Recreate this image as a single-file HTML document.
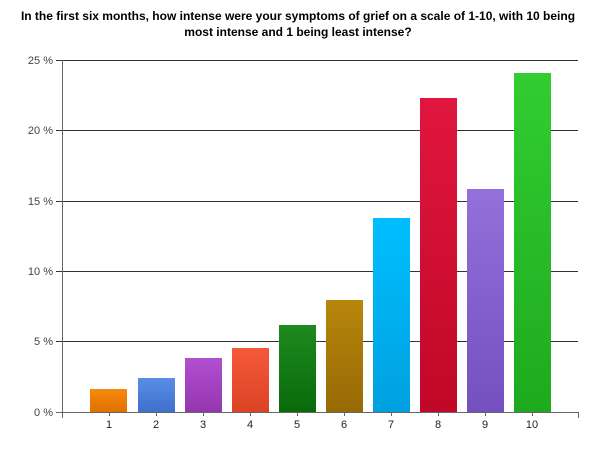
<!DOCTYPE html>
<html><head><style>body{margin:0;background:#fff}svg{display:block}</style></head><body>
<svg width="600" height="450" xmlns="http://www.w3.org/2000/svg" font-family="Liberation Sans, Arial, sans-serif">
<defs>
<linearGradient id="g1" x1="0" y1="0" x2="0" y2="1"><stop offset="0" stop-color="#f68a0e"/><stop offset="1" stop-color="#e07000"/></linearGradient>
<linearGradient id="g2" x1="0" y1="0" x2="0" y2="1"><stop offset="0" stop-color="#5a8ee6"/><stop offset="1" stop-color="#3f70cc"/></linearGradient>
<linearGradient id="g3" x1="0" y1="0" x2="0" y2="1"><stop offset="0" stop-color="#b24fd0"/><stop offset="1" stop-color="#9436b0"/></linearGradient>
<linearGradient id="g4" x1="0" y1="0" x2="0" y2="1"><stop offset="0" stop-color="#f45a3a"/><stop offset="1" stop-color="#db4325"/></linearGradient>
<linearGradient id="g5" x1="0" y1="0" x2="0" y2="1"><stop offset="0" stop-color="#1e8a1e"/><stop offset="1" stop-color="#0a6a0a"/></linearGradient>
<linearGradient id="g6" x1="0" y1="0" x2="0" y2="1"><stop offset="0" stop-color="#b8860b"/><stop offset="1" stop-color="#976a05"/></linearGradient>
<linearGradient id="g7" x1="0" y1="0" x2="0" y2="1"><stop offset="0" stop-color="#00bfff"/><stop offset="1" stop-color="#00a0df"/></linearGradient>
<linearGradient id="g8" x1="0" y1="0" x2="0" y2="1"><stop offset="0" stop-color="#e0163e"/><stop offset="1" stop-color="#c00828"/></linearGradient>
<linearGradient id="g9" x1="0" y1="0" x2="0" y2="1"><stop offset="0" stop-color="#9370db"/><stop offset="1" stop-color="#7450c0"/></linearGradient>
<linearGradient id="g10" x1="0" y1="0" x2="0" y2="1"><stop offset="0" stop-color="#32cd32"/><stop offset="1" stop-color="#1eaa1e"/></linearGradient>
</defs>
<text x="298" y="20" text-anchor="middle" font-size="12" font-weight="bold" fill="#000">In the first six months, how intense were your symptoms of grief on a scale of 1-10, with 10 being</text>
<text x="298" y="36" text-anchor="middle" font-size="12" font-weight="bold" fill="#000">most intense and 1 being least intense?</text>
<g stroke="#333" stroke-width="1">
<line x1="56" y1="60.5" x2="578" y2="60.5"/>
<line x1="56" y1="130.5" x2="578" y2="130.5"/>
<line x1="56" y1="201.5" x2="578" y2="201.5"/>
<line x1="56" y1="271.5" x2="578" y2="271.5"/>
<line x1="56" y1="341.5" x2="578" y2="341.5"/>
</g>
<g font-size="11" fill="#444" text-anchor="end">
<text x="53" y="64">25 %</text><text x="53" y="134">20 %</text><text x="53" y="205">15 %</text><text x="53" y="275">10 %</text><text x="53" y="345">5 %</text><text x="53" y="416">0 %</text>
</g>
<rect x="90" y="389" width="37" height="23" fill="url(#g1)"/>
<rect x="138" y="378" width="37" height="34" fill="url(#g2)"/>
<rect x="185" y="358" width="37" height="54" fill="url(#g3)"/>
<rect x="232" y="348" width="37" height="64" fill="url(#g4)"/>
<rect x="279" y="325" width="37" height="87" fill="url(#g5)"/>
<rect x="326" y="300" width="37" height="112" fill="url(#g6)"/>
<rect x="373" y="218" width="37" height="194" fill="url(#g7)"/>
<rect x="420" y="98" width="37" height="314" fill="url(#g8)"/>
<rect x="467" y="189" width="37" height="223" fill="url(#g9)"/>
<rect x="514" y="73" width="37" height="339" fill="url(#g10)"/>
<g stroke="#666" stroke-width="1">
<line x1="56" y1="412.5" x2="578" y2="412.5"/>
<line x1="62.5" y1="60" x2="62.5" y2="418"/>
<line x1="109.5" y1="412" x2="109.5" y2="416"/><line x1="156.5" y1="412" x2="156.5" y2="416"/><line x1="203.5" y1="412" x2="203.5" y2="416"/><line x1="250.5" y1="412" x2="250.5" y2="416"/><line x1="297.5" y1="412" x2="297.5" y2="416"/><line x1="344.5" y1="412" x2="344.5" y2="416"/><line x1="391.5" y1="412" x2="391.5" y2="416"/><line x1="438.5" y1="412" x2="438.5" y2="416"/><line x1="485.5" y1="412" x2="485.5" y2="416"/><line x1="532.5" y1="412" x2="532.5" y2="416"/><line x1="578.5" y1="412" x2="578.5" y2="418"/>
</g>
<g font-size="11" fill="#222" text-anchor="middle">
<text x="109" y="428">1</text><text x="156" y="428">2</text><text x="203" y="428">3</text><text x="250" y="428">4</text><text x="297" y="428">5</text><text x="344" y="428">6</text><text x="391" y="428">7</text><text x="438" y="428">8</text><text x="485" y="428">9</text><text x="532" y="428">10</text>
</g>
</svg>
</body></html>
